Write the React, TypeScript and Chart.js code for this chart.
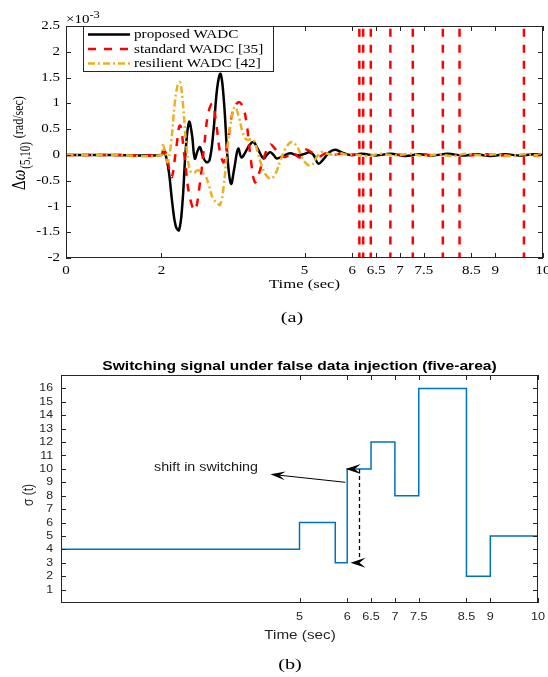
import React, { useEffect, useRef } from "react";
import { Chart, registerables } from "chart.js";
Chart.register(...registerables);

const SERIF = '"Liberation Serif", "Times New Roman", Times, serif';
const SANS = '"Liberation Sans", Arial, Helvetica, sans-serif';
const INK = "#262626";

// ---------- (a) frequency deviation, values in units of 1e-3 rad/sec ----------
const proposedTime = [0, 1.0, 2.0, 2.04, 2.1, 2.16, 2.23, 2.3, 2.37, 2.44, 2.51, 2.58, 2.64, 2.7, 2.76, 2.81, 2.87, 2.94, 3.01, 3.09, 3.17, 3.24, 3.31, 3.39, 3.46, 3.53, 3.61, 3.68, 3.76, 3.84, 3.93, 4.03, 4.14, 4.21, 4.28, 4.35, 4.42, 4.55, 4.7, 4.85, 5.0, 5.1, 5.19, 5.29, 5.4, 5.52, 5.64, 5.78, 5.95, 6.2, 6.5, 6.8, 7.1, 7.4, 7.7, 8.0, 8.3, 8.6, 8.9, 9.2, 9.5, 9.8, 10];
const proposedValue = [0, 0, 0, 0.09, -0.04, -0.35, -0.95, -1.38, -1.46, -0.95, 0.1, 0.64, 0.4, -0.07, 0.08, 0.15, -0.03, -0.14, -0.1, 0.45, 1.3, 1.57, 1.05, -0.1, -0.56, -0.25, 0.12, -0.05, 0.05, 0.18, 0.25, 0.1, -0.07, 0.0, 0.05, 0.0, -0.07, -0.02, 0.03, -0.01, 0.02, 0.05, 0.0, -0.17, -0.08, 0.05, 0.1, 0.05, 0.0, 0.02, -0.01, 0.02, -0.02, 0.01, -0.01, 0.02, -0.01, 0.01, -0.02, 0.01, -0.01, 0.01, 0];

const standardTime = [0, 1.0, 2.0, 2.06, 2.12, 2.17, 2.22, 2.3, 2.39, 2.48, 2.58, 2.7, 2.8, 2.9, 2.98, 3.07, 3.15, 3.23, 3.31, 3.4, 3.5, 3.61, 3.7, 3.78, 3.87, 3.96, 4.05, 4.14, 4.28, 4.38, 4.48, 4.6, 4.75, 4.9, 5.02, 5.15, 5.3, 5.45, 5.6, 5.75, 5.9, 6.05, 6.3, 6.6, 6.95, 7.15, 7.5, 7.75, 8.05, 8.45, 8.8, 9.1, 9.4, 9.8, 10];
const standardValue = [0, 0, 0, 0.08, -0.05, -0.3, -0.43, 0.05, 0.57, 0.0, -0.75, -1.07, -0.6, 0.2, 0.8, 0.99, 0.6, 0.05, -0.14, 0.3, 0.85, 1.02, 0.95, 0.65, -0.05, -0.53, -0.35, -0.07, 0.2, 0.12, 0.0, -0.04, 0.05, -0.05, 0.1, 0.05, -0.03, 0.03, 0.0, 0.02, 0.0, 0.0, 0.01, -0.01, 0.01, -0.01, 0.01, -0.01, 0.01, -0.01, 0.01, -0.01, 0.01, -0.01, 0];
// instants where the attacked (standard) controller output shoots off-scale
const standardSpikeTimes = [6.15, 6.23, 6.39, 6.8, 7.27, 7.9, 8.25, 9.6];
const spikeHigh = 40;
const spikeLow = -40;

const resilientTime = [0, 1.0, 2.0, 2.03, 2.08, 2.13, 2.2, 2.28, 2.34, 2.39, 2.45, 2.52, 2.6, 2.68, 2.76, 2.84, 2.92, 3.0, 3.08, 3.16, 3.23, 3.3, 3.38, 3.46, 3.54, 3.62, 3.7, 3.78, 3.86, 3.94, 4.02, 4.1, 4.2, 4.3, 4.4, 4.5, 4.6, 4.73, 4.85, 4.95, 5.05, 5.15, 5.25, 5.35, 5.45, 5.6, 5.75, 5.9, 6.05, 6.3, 6.6, 6.9, 7.2, 7.5, 7.8, 8.1, 8.4, 8.7, 9.0, 9.3, 9.6, 9.9, 10];
const resilientValue = [0, 0, 0, 0.19, 0.05, -0.14, 0.2, 1.0, 1.35, 1.41, 1.0, 0.2, -0.3, -0.35, -0.3, -0.33, -0.4, -0.6, -0.85, -0.92, -0.97, -0.65, 0.1, 0.65, 0.93, 0.75, 0.45, 0.3, 0.3, 0.28, 0.05, -0.2, -0.4, -0.46, -0.35, -0.1, 0.12, 0.25, 0.15, -0.05, -0.18, -0.2, -0.05, 0.05, 0.03, 0.0, 0.03, 0.0, 0.01, -0.02, 0.02, -0.01, 0.02, -0.02, 0.01, -0.02, 0.02, -0.01, 0.01, -0.02, 0.01, -0.01, 0];

const topXTicks = [0, 2, 5, 6, 6.5, 7, 7.5, 8.5, 9, 10];
const topYTicks = [-2, -1.5, -1, -0.5, 0, 0.5, 1, 1.5, 2, 2.5];
const legendLabels = ["proposed WADC", "standard WADC [35]", "resilient WADC [42]"];

// ---------- (b) switching signal ----------
const switchTime = [0, 5, 5.75, 6, 6.5, 7, 7.5, 8.5, 9, 10];
const switchState = [4, 6, 3, 10, 12, 8, 16, 2, 5, 5];
const bottomXTicks = [5, 6, 6.5, 7, 7.5, 8.5, 9, 10];
const bottomYTicks = [1, 2, 3, 4, 5, 6, 7, 8, 9, 10, 11, 12, 13, 14, 15, 16];
const noteText = "shift in switching";
const noteTextAt = [3.04, 10.12];
const noteArrowFrom = [5.96, 9.0];
const noteArrowTo = [4.39, 9.6];
const shiftLineX = 6.24;
const shiftLineRange = [10, 3.3];
const shiftHeadTips = [[5.97, 10], [6.07, 3]];

type Pt = { x: number; y: number | null };

function pairs(t: number[], v: number[]): Pt[] {
  return t.map((x, i) => ({ x, y: v[i] }));
}

function standardPoints(): Pt[] {
  const pts: Pt[] = [];
  let s = 0;
  for (let i = 0; i < standardTime.length; i++) {
    while (s < standardSpikeTimes.length && standardSpikeTimes[s] < standardTime[i]) {
      const ts = standardSpikeTimes[s];
      pts.push({ x: ts, y: null }, { x: ts, y: spikeHigh }, { x: ts, y: spikeLow }, { x: ts, y: null });
      s++;
    }
    pts.push({ x: standardTime[i], y: standardValue[i] });
  }
  return pts;
}

function txt(ctx: CanvasRenderingContext2D, s: string, x: number, y: number, font: string, align: CanvasTextAlign, sx: number, baseline: CanvasTextBaseline = "middle", color = "#000") {
  ctx.save();
  ctx.font = font;
  ctx.fillStyle = color;
  ctx.textAlign = align;
  ctx.textBaseline = baseline;
  ctx.translate(x, y);
  ctx.scale(sx, 1);
  ctx.fillText(s, 0, 0);
  ctx.restore();
}

function head(ctx: CanvasRenderingContext2D, tipX: number, tipY: number, fromX: number, fromY: number, len: number, half: number) {
  const ang = Math.atan2(tipY - fromY, tipX - fromX);
  const ux = Math.cos(ang), uy = Math.sin(ang);
  const nx = -uy, ny = ux;
  const bx = tipX - ux * len, by = tipY - uy * len;
  ctx.beginPath();
  ctx.moveTo(tipX, tipY);
  ctx.lineTo(bx + nx * half, by + ny * half);
  ctx.lineTo(tipX - ux * len * 0.6, tipY - uy * len * 0.6);
  ctx.lineTo(bx - nx * half, by - ny * half);
  ctx.closePath();
  ctx.fill();
}

function frameAndTicks(chart: any, len: number) {
  const { ctx, chartArea: a } = chart;
  const xs = chart.scales.x, ys = chart.scales.y;
  const L = Math.round(a.left), R = Math.round(a.right), T = Math.round(a.top), B = Math.round(a.bottom);
  ctx.strokeStyle = INK;
  ctx.lineWidth = 1;
  ctx.setLineDash([]);
  ctx.strokeRect(L + 0.5, T + 0.5, R - L - 1, B - T - 1);
  ctx.beginPath();
  xs.ticks.forEach((t: any) => {
    const p = Math.round(xs.getPixelForValue(t.value)) + 0.5;
    ctx.moveTo(p, B); ctx.lineTo(p, B - len);
    ctx.moveTo(p, T); ctx.lineTo(p, T + len);
  });
  ys.ticks.forEach((t: any) => {
    const p = Math.round(ys.getPixelForValue(t.value)) + 0.5;
    ctx.moveTo(L, p); ctx.lineTo(L + len, p);
    ctx.moveTo(R, p); ctx.lineTo(R - len, p);
  });
  ctx.stroke();
  return { L, R, T, B, xs, ys };
}

const topDecor = {
  id: "topDecor",
  afterDraw(chart: any) {
    const ctx: CanvasRenderingContext2D = chart.ctx;
    ctx.save();
    const { L, R, T, B, xs, ys } = frameAndTicks(chart, 5);
    xs.ticks.forEach((t: any) => txt(ctx, String(t.value), xs.getPixelForValue(t.value), B + 13, `12px ${SERIF}`, "center", 1.25));
    ys.ticks.forEach((t: any) => txt(ctx, String(t.value), L - 6, ys.getPixelForValue(t.value), `12px ${SERIF}`, "right", 1.25));

    // exponent
    ctx.font = `12px ${SERIF}`;
    const w10 = ctx.measureText("\u00d710").width * 1.25;
    txt(ctx, "\u00d710", L, T - 3, `12px ${SERIF}`, "left", 1.25, "alphabetic");
    txt(ctx, "-3", L + w10, T - 8, `10px ${SERIF}`, "left", 1.25, "alphabetic");

    // legend
    const lx = L + 17, lw = 190, lh = 45;
    ctx.fillStyle = "#fff";
    ctx.fillRect(lx, T, lw, lh);
    ctx.strokeStyle = INK;
    ctx.lineWidth = 1;
    ctx.strokeRect(lx + 0.5, T + 0.5, lw, lh);
    chart.data.datasets.forEach((ds: any, i: number) => {
      const ry = T + 8.5 + i * 14.5;
      ctx.save();
      ctx.strokeStyle = ds.borderColor;
      ctx.lineWidth = ds.borderWidth;
      ctx.setLineDash(ds.borderDash || []);
      ctx.beginPath();
      ctx.moveTo(lx + 5, ry);
      ctx.lineTo(lx + 47, ry);
      ctx.stroke();
      ctx.restore();
      txt(ctx, ds.label, lx + 51, ry + 0.5, `13px ${SERIF}`, "left", 1.17);
    });

    // x title
    txt(ctx, "Time (sec)", (L + R) / 2, B + 27, `13px ${SERIF}`, "center", 1.28);
    // caption
    txt(ctx, "(a)", 292, 318, `15px ${SERIF}`, "center", 1.35);

    // y title with subscript, rotated
    ctx.save();
    ctx.translate(25, 190);
    ctx.rotate(-Math.PI / 2);
    ctx.scale(1, 1.25);
    ctx.fillStyle = "#000";
    ctx.textAlign = "left";
    ctx.textBaseline = "alphabetic";
    ctx.font = `15px ${SERIF}`;
    ctx.fillText("\u0394", 0, 0);
    let w = ctx.measureText("\u0394").width;
    ctx.font = `italic 15px ${SERIF}`;
    ctx.fillText("\u03c9", w, 0);
    w += ctx.measureText("\u03c9").width + 1;
    ctx.font = `11px ${SERIF}`;
    ctx.fillText("(5,10)", w, 4);
    w += ctx.measureText("(5,10)").width + 4;
    ctx.font = `12px ${SERIF}`;
    ctx.fillText("(rad/sec)", w, -1.5);
    ctx.restore();
    ctx.restore();
  },
};

const bottomDecor = {
  id: "bottomDecor",
  afterDraw(chart: any) {
    const ctx: CanvasRenderingContext2D = chart.ctx;
    ctx.save();
    const { L, R, T, B, xs, ys } = frameAndTicks(chart, 5);
    xs.ticks.forEach((t: any) => txt(ctx, String(t.value), xs.getPixelForValue(t.value), B + 14, `11px ${SANS}`, "center", 1.15, "middle", "#262626"));
    ys.ticks.forEach((t: any) => txt(ctx, String(t.value), L - 8, ys.getPixelForValue(t.value), `11px ${SANS}`, "right", 1.12, "middle", "#262626"));

    txt(ctx, "Switching signal under false data injection (five-area)", (L + R) / 2, T - 9, `bold 13px ${SANS}`, "center", 1.2);
    txt(ctx, "Time (sec)", 300, B + 33, `12px ${SANS}`, "center", 1.27, "middle", "#262626");
    txt(ctx, "(b)", 290, 330, `15px ${SERIF}`, "center", 1.35);

    // sigma label
    ctx.save();
    ctx.translate(33, 160);
    ctx.rotate(-Math.PI / 2);
    ctx.scale(1, 1.15);
    ctx.fillStyle = "#262626";
    ctx.textAlign = "center";
    ctx.textBaseline = "alphabetic";
    ctx.font = `12px ${SANS}`;
    ctx.fillText("\u03c3 (t)", 0, 0);
    ctx.restore();

    // annotation
    const px = (v: number) => xs.getPixelForValue(v);
    const py = (v: number) => ys.getPixelForValue(v);
    txt(ctx, noteText, px(noteTextAt[0]), py(noteTextAt[1]), `12px ${SANS}`, "center", 1.19, "middle", "#1a1a1a");
    ctx.fillStyle = "#000";
    ctx.strokeStyle = "#000";
    ctx.lineWidth = 1;
    const ax0 = px(noteArrowFrom[0]), ay0 = py(noteArrowFrom[1]);
    const ax1 = px(noteArrowTo[0]), ay1 = py(noteArrowTo[1]);
    ctx.beginPath();
    ctx.moveTo(ax0, ay0);
    ctx.lineTo(ax1 + 8, ay1 + (ay0 - ay1) * 8 / (ax0 - ax1));
    ctx.stroke();
    head(ctx, ax1, ay1, ax0, ay0, 15, 4.5);

    const sx = Math.round(px(shiftLineX)) + 0.5;
    ctx.save();
    ctx.setLineDash([4, 3]);
    ctx.lineWidth = 1.3;
    ctx.beginPath();
    ctx.moveTo(sx, py(shiftLineRange[0]));
    ctx.lineTo(sx, py(shiftLineRange[1]));
    ctx.stroke();
    ctx.restore();
    shiftHeadTips.forEach(([tx, ty]) => {
      head(ctx, px(tx), py(ty), px(shiftLineX) + 4, py(ty), 15, 5);
    });
    ctx.restore();
  },
};

function fixedAxes(xMin: number, xMax: number, xTicks: number[], yMin: number, yMax: number, yTicks: number[], xHeight: number, yWidth: number) {
  return {
    x: {
      type: "linear" as const, min: xMin, max: xMax,
      afterBuildTicks: (s: any) => { s.ticks = xTicks.map((v) => ({ value: v })); },
      ticks: { display: false }, grid: { display: false }, border: { display: false },
      afterFit: (s: any) => { s.height = xHeight; },
    },
    y: {
      type: "linear" as const, min: yMin, max: yMax,
      afterBuildTicks: (s: any) => { s.ticks = yTicks.map((v) => ({ value: v })); },
      ticks: { display: false }, grid: { display: false }, border: { display: false },
      afterFit: (s: any) => { s.width = yWidth; },
    },
  };
}

export default function App() {
  const refA = useRef<HTMLCanvasElement>(null);
  const refB = useRef<HTMLCanvasElement>(null);

  useEffect(() => {
    const chartA = new Chart(refA.current as HTMLCanvasElement, {
      type: "line",
      data: {
        datasets: [
          { label: legendLabels[0], data: pairs(proposedTime, proposedValue) as any, borderColor: "#000000", borderWidth: 2.5, pointRadius: 0, tension: 0.4, order: 3, clip: 0 } as any,
          { label: legendLabels[1], data: standardPoints() as any, borderColor: "#FF0000", borderWidth: 2.5, borderDash: [8, 8], pointRadius: 0, tension: 0.4, order: 2, spanGaps: false, clip: 0 } as any,
          { label: legendLabels[2], data: pairs(resilientTime, resilientValue) as any, borderColor: "#EDB120", borderWidth: 2.5, borderDash: [7, 3, 2, 3], pointRadius: 0, tension: 0.4, order: 1, clip: 0 } as any,
        ],
      },
      options: {
        responsive: false,
        animation: false,
        events: [],
        layout: { padding: { left: 0, right: 5, top: 26, bottom: 0 } },
        plugins: { legend: { display: false }, tooltip: { enabled: false } },
        scales: fixedAxes(0, 10, topXTicks, -2, 2.5, topYTicks, 77, 66) as any,
      },
      plugins: [topDecor],
    });

    const chartB = new Chart(refB.current as HTMLCanvasElement, {
      type: "line",
      data: {
        datasets: [
          { label: "sigma", data: pairs(switchTime, switchState) as any, borderColor: "#0072BD", borderWidth: 1.5, pointRadius: 0, stepped: "before", clip: 0 } as any,
        ],
      },
      options: {
        responsive: false,
        animation: false,
        events: [],
        layout: { padding: { left: 0, right: 10, top: 40, bottom: 0 } },
        plugins: { legend: { display: false }, tooltip: { enabled: false } },
        scales: fixedAxes(0, 10, bottomXTicks, 0, 17, bottomYTicks, 74, 61) as any,
      },
      plugins: [bottomDecor],
    });

    return () => {
      chartA.destroy();
      chartB.destroy();
    };
  }, []);

  return (
    <div style={{ position: "absolute", left: 0, top: 0, width: 548, height: 677, background: "#fff" }}>
      <canvas ref={refA} width={548} height={335} style={{ position: "absolute", left: 0, top: 0 }} />
      <canvas ref={refB} width={548} height={342} style={{ position: "absolute", left: 0, top: 335 }} />
    </div>
  );
}
